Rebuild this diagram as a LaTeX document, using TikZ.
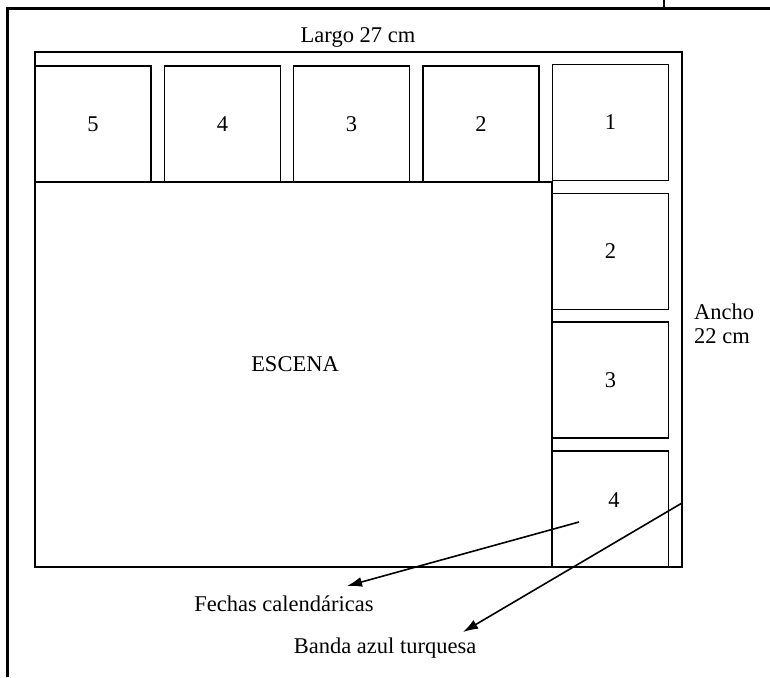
\documentclass[tikz,border=0pt]{standalone}
\usepackage{fontspec}
\setmainfont{Liberation Serif}
\usetikzlibrary{arrows.meta}
\begin{document}
\begin{tikzpicture}[x=1pt,y=-1pt,
  txt/.style={font=\fontsize{22.5}{23.5}\selectfont, inner sep=0pt},
  sq/.style={draw, line width=1.7pt, minimum size=116pt, inner sep=0pt, font=\fontsize{22.5}{23.5}\selectfont},
  frame/.style={line width=3pt},
  outline/.style={line width=1.7pt},
  pointer/.style={line width=1.6pt, -{Latex[length=15pt,width=10pt]}}
]
\useasboundingbox (0,0) rectangle (770,677);
% page frame
\draw[frame] (7,677) -- (7,9) -- (770,9);
\draw[line width=2pt] (664,0) -- (664,9);
% outer rectangle
\coordinate (oTL) at (35,52);
\coordinate (oBR) at (682,567);
\draw[outline] (oTL) rectangle (oBR);
% top row
\node[sq] (t5) at (93,124) {5};
\node[sq] (t4) at (222.5,124) {4};
\node[sq] (t3) at (351.5,124) {3};
\node[sq] (t2) at (481,124) {2};
\node[sq] (t1) at (610.5,122.5) {1};
% right column
\node[sq] (r2) at (610.5,251.5) {2};
\node[sq] (r3) at (610.5,380) {3};
\node[sq] (r4) at (610.5,509) {};
\node[txt] (r4l) at (614,500) {4};
% scene region
\coordinate (sL) at (35,182);
\coordinate (sR) at (552,182);
\coordinate (sB) at (552,567);
\draw[outline] (sL) -- (sR) -- (sB);
\node[txt] (escena) at (295,364) {ESCENA};
% dimension labels
\node[txt] (largo) at (358,37) {Largo 27 cm};
\node[txt, align=left, anchor=west] (ancho) at (694,324) {Ancho\\22 cm};
% pointers
\node[txt] (fechas) at (284,604) {Fechas calendáricas};
\node[txt] (banda) at (385,648) {Banda azul turquesa};
\coordinate (p1s) at (579,522);
\coordinate (p1e) at (347,586);
\coordinate (p2s) at (682,503);
\coordinate (p2e) at (463,632);
\draw[pointer] (p1s) -- (p1e);
\draw[pointer] (p2s) -- (p2e);
\end{tikzpicture}
\end{document}
